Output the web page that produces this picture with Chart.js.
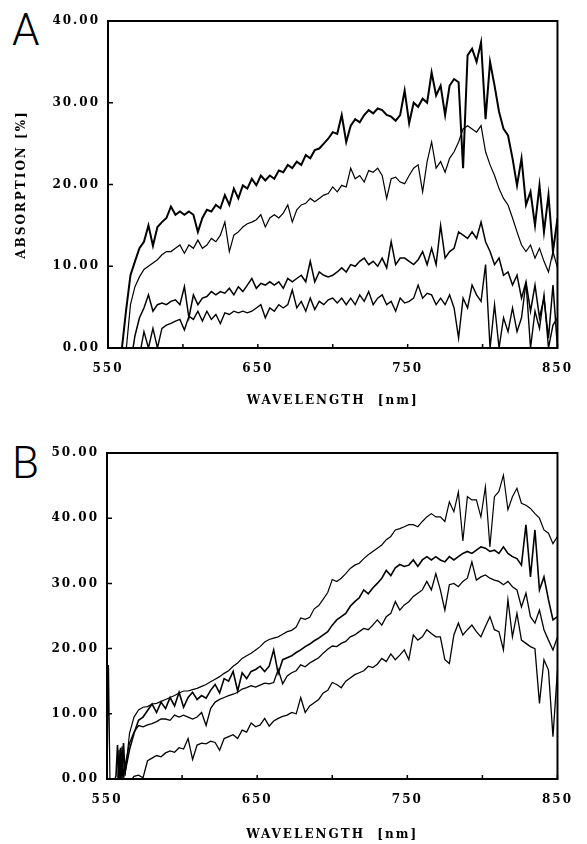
<!DOCTYPE html>
<html>
<head>
<meta charset="utf-8">
<script src="https://cdn.jsdelivr.net/npm/chart.js@4.4.1/dist/chart.umd.min.js"></script>
<style>
    body { margin: 0; background: #fff; width: 587px; height: 844px; position: relative; overflow: hidden; }
    canvas { position: absolute; left: 0; }
    #chartA { top: 0; }
    #chartB { top: 430px; }
    .panel-letter { position: absolute; left: 12px; font-family: Roboto, 'Liberation Sans', sans-serif; font-weight: 300; font-size: 44px; line-height: 44px; color: #000; }
</style>
</head>
<body>
<div class="panel-letter" style="top: 8px;">A</div>
<div class="panel-letter" style="top: 441px;">B</div>
<canvas id="chartA" width="587" height="420"></canvas>
<canvas id="chartB" width="587" height="414"></canvas>
<script>
// wavelength grid (nm), panel A
const wavelengthsA = [
    550, 553, 556, 559, 562, 565, 568, 571, 574, 577,
    580, 583, 586, 589, 592, 595, 598, 601, 604, 607,
    610, 613, 616, 619, 622, 625, 628, 631, 634, 637,
    640, 643, 646, 649, 652, 655, 658, 661, 664, 667,
    670, 673, 676, 679, 682, 685, 688, 691, 694, 697,
    700, 703, 706, 709, 712, 715, 718, 721, 724, 727,
    730, 733, 736, 739, 742, 745, 748, 751, 754, 757,
    760, 763, 766, 769, 772, 775, 778, 781, 784, 787,
    790, 793, 796, 799, 802, 805, 808, 811, 814, 817,
    820, 823, 826, 829, 832, 835, 838, 841, 844, 847,
    850
];

const absorptionA1 = [
    null, null, -5, -0.5, 4.5, 8.9, 10.6, 12.2, 13, 15,
    12.5, 14.8, 15.4, 15.9, 17.3, 16.3, 16.7, 16.3, 16.7, 16.3,
    14.2, 15.9, 16.9, 16.7, 17.5, 17.1, 18.7, 17.5, 19.5, 18.3,
    19.9, 19.5, 20.7, 19.9, 21.1, 20.5, 21.1, 20.7, 21.7, 21.5,
    22.4, 22, 22.8, 22.4, 23.6, 23.2, 24.2, 24.4, 25, 25.6,
    26.4, 26.2, 28.5, 25.2, 27.2, 28, 27.6, 28.5, 29.1, 28.7,
    29.3, 29.1, 28.5, 28.3, 27.8, 28.5, 31.5, 27.5, 30, 29.5,
    30.5, 30, 33.7, 30.9, 32.1, 28.5, 32.1, 32.9, 32.5, 22,
    35.8, 36.6, 35, 37.4, 28, 35, 32.1, 28.9, 26.8, 26,
    23.2, 19.9, 23.2, 17.5, 19.1, 15, 19.9, 14.2, 18.7, 11.8,
    15.9
];

const absorptionA2 = [
    null, null, null, -4, -0.5, 5.3, 7.5, 8.7, 9.6, 10,
    10.4, 10.8, 11.4, 11.8, 11.8, 12.2, 12.6, 11.6, 12.6, 12.2,
    13.2, 12.2, 12.6, 13.4, 13, 13.8, 15.4, 11.8, 13.8, 14.2,
    14.8, 15.2, 15.4, 15.7, 16.3, 14.8, 15.9, 16.3, 15.9, 16.5,
    17.5, 15.4, 16.9, 17.5, 17.7, 18.3, 17.9, 18.3, 18.7, 18.9,
    19.7, 19.1, 19.9, 19.7, 22, 20.7, 21.1, 20.3, 21.7, 21.5,
    22, 21.1, 18.3, 20.7, 20.9, 20.3, 20.1, 21.1, 22, 22.4,
    19.1, 22.8, 25.2, 22, 22.8, 21.5, 23.2, 24, 25.2, 26.8,
    27.2, 26.8, 26.4, 27.2, 24, 22.4, 21.1, 19.5, 18.3, 17.5,
    15.9, 14.2, 12.6, 11.8, 12.6, 11, 12.2, 10.6, 9.3, 11.8,
    9.8
];

const absorptionA3 = [
    null, null, null, null, null, -2, 1.5, 3.7, 4.9, 6.5,
    4.5, 5.3, 5.5, 5.3, 5.7, 5.9, 5.3, 7.5, 3.7, 6.5,
    5.3, 6.1, 6.3, 6.9, 6.5, 6.9, 6.7, 7.3, 6.5, 7.5,
    6.9, 7.7, 8.5, 7.3, 7.9, 7.7, 8.1, 7.7, 8.1, 7.3,
    8.5, 8.1, 8.5, 8.9, 8.1, 10.6, 8.1, 9.3, 8.9, 8.7,
    8.9, 9.3, 9.8, 9.3, 10.2, 10, 10.6, 11, 10.2, 10.6,
    10, 11, 9.8, 13, 10.2, 11, 11, 10.6, 10.2, 10.8,
    11.8, 10.2, 12.2, 10.2, 15, 11, 11.8, 12.2, 14.2, 13.8,
    13.4, 14.2, 13.4, 15.4, 13, 11.8, 10.2, 11, 8.9, 9.3,
    7.7, 8.9, 6.1, 8.1, 4.5, 7.7, 3.7, 6.1, 1.2, 7.7,
    0
];

const absorptionA4 = [
    null, null, null, null, null, null, null, -1, 2, 0,
    2.4, 0, 2.4, 2.8, 3, 3.3, 3.5, 2.2, 3.9, 3.5,
    4.5, 3.3, 4.5, 3.5, 4.1, 3, 4.3, 4.1, 4.5, 4.3,
    4.5, 4.3, 4.5, 4.9, 5.3, 3.7, 4.9, 4.5, 5.3, 4.9,
    5.3, 7.1, 4.9, 5.7, 4.5, 6.1, 4.7, 5.7, 5.3, 5.9,
    6.1, 5.5, 6.1, 5.3, 6.1, 5.3, 6.5, 5.7, 6.9, 5.3,
    6.1, 6.5, 5.3, 5.7, 4.5, 6.1, 5.5, 5.7, 6.1, 7.7,
    6.1, 6.7, 6.5, 5.3, 6.1, 5.3, 6.5, 4.9, 1.2, 6.1,
    4.9, 7.7, 6.5, 5.7, 10.2, 0, 5.3, 0, 3.7, 2,
    4.9, 2, 3.7, 8.1, 0, 4.5, 2.4, 6.5, 0, 2.8,
    3.7
];

// wavelength grid (nm), panel B: a few extra samples for the spikes near 550
const wavelengthsB = [
    550, 551, 552, 554, 556, 557, 558, 559, 560, 561,
    562, 565, 568, 571, 574, 577, 580, 583, 586, 589,
    592, 595, 598, 601, 604, 607, 610, 613, 616, 619,
    622, 625, 628, 631, 634, 637, 640, 643, 646, 649,
    652, 655, 658, 661, 664, 667, 670, 673, 676, 679,
    682, 685, 688, 691, 694, 697, 700, 703, 706, 709,
    712, 715, 718, 721, 724, 727, 730, 733, 736, 739,
    742, 745, 748, 751, 754, 757, 760, 763, 766, 769,
    772, 775, 778, 781, 784, 787, 790, 793, 796, 799,
    802, 805, 808, 811, 814, 817, 820, 823, 826, 829,
    832, 835, 838, 841, 844, 847, 850
];

const absorptionB1 = [
    -1, 17.5, -1, null, null, null, null, null, null, null,
    0.5, 7, 9.5, 10.6, 11, 11.1, 11.5, 11.6, 11.9, 12.2,
    12.5, 12.8, 13.2, 13.5, 13.5, 13.7, 13.9, 14.2, 14.5, 14.9,
    15.3, 15.7, 16.2, 16.6, 17.3, 17.8, 18.5, 18.9, 19.3, 19.8,
    20.3, 21, 21.4, 21.6, 21.8, 22.2, 22.6, 22.8, 23.3, 24.7,
    24.5, 24.8, 26.1, 26.6, 27.6, 28.6, 30.6, 30.3, 30.8, 31.5,
    32.3, 32.8, 33.1, 33.8, 34.4, 34.9, 35.4, 35.9, 36.7, 37.2,
    38.2, 38.4, 38.7, 39, 39, 38.7, 39.5, 40.2, 40.7, 40.2,
    40.2, 39.5, 42.5, 41, 44, 36.5, 43.3, 42.8, 42.8, 40.2,
    44.8, 35.6, 43.3, 44.1, 46.6, 41.3, 43.3, 44.6, 42.3, 42,
    41.5, 40.7, 40, 38.2, 37.7, 36.1, 37.2
];

const absorptionB2 = [
    null, null, null, -1, 0.5, 5.2, -1, 4.8, 0, 5.5,
    1, 4.5, 7, 9, 9.5, 10.5, 11.5, 10.2, 11.8, 10.8,
    12.5, 11.2, 13.3, 11, 12.5, 13.3, 12.2, 12.8, 12.4, 13.6,
    14.5, 13.2, 15.4, 15, 16.5, 13.5, 16.3, 15.4, 16.5, 16.8,
    17.3, 16.5, 17.3, 19.8, 16.2, 18.3, 18.6, 18.9, 19.4, 19.8,
    20.3, 20.7, 21.2, 21.6, 22.1, 22.6, 23.6, 24.4, 24.9, 25.4,
    26.5, 27.2, 27.8, 29, 28.4, 29.3, 30, 30.8, 32, 31.2,
    32.4, 32.9, 32.6, 32.8, 33.6, 32.6, 33.6, 34.1, 33.6, 34.1,
    33.6, 33.3, 34.1, 33.6, 34.1, 34.6, 34.9, 34.6, 35.1, 35.6,
    35.4, 34.9, 35.1, 34.6, 35.6, 34.6, 34.1, 33.8, 32.8, 39,
    31, 38.2, 29, 31, 27.5, 24.4, 24.9
];

const absorptionB3 = [
    null, null, null, null, -1, -1, 4.5, -1, 5, 0.5,
    2, 5.5, 7.2, 8.2, 8, 8.3, 8.5, 8.8, 9.2, 9.2,
    9, 9.8, 9.5, 9.8, 9.5, 9.2, 9.5, 10.2, 8.2, 10.8,
    11.8, 12.2, 12.5, 12.8, 13, 13.3, 13.8, 14, 14.3, 14.1,
    14.4, 14.7, 14.6, 14.8, 16.8, 14.6, 15.8, 16.3, 16.6, 17.5,
    17.2, 17.8, 18.2, 18.6, 19.3, 19.9, 20.4, 20.3, 20.8, 21.1,
    21.8, 22.1, 22.6, 23.1, 22.9, 23.6, 24.4, 23.6, 24.9, 25.4,
    27.2, 25.9, 26.7, 27.2, 28, 28.5, 29, 30.3, 29, 31.5,
    29, 25.9, 29.8, 30, 29.5, 30.3, 30.8, 33.3, 30.5, 31,
    31.3, 30.8, 30.5, 30.3, 29.8, 30.3, 29.5, 29, 26.4, 28.5,
    24.9, 23.9, 25.9, 22.9, 21.3, 19.8, 21.8
];

const absorptionB4 = [
    null, null, null, null, null, null, null, null, null, null,
    null, -0.5, 0.4, 0.6, 0.2, 2.8, 3.2, 3.6, 3.4, 4,
    4.3, 4.1, 4.8, 4.6, 6.2, 3, 5.2, 5.5, 5.4, 5.8,
    5.6, 4.4, 6.2, 6.5, 6.8, 6.2, 7.5, 7.2, 8.6, 8,
    8.3, 9.3, 8.1, 8.9, 9.3, 9.6, 9.8, 10.2, 10, 12.5,
    10.2, 11.2, 11.7, 12.2, 13.2, 13.6, 14.8, 14.5, 14, 15,
    15.5, 16, 16.3, 16.6, 17.3, 17.1, 17.6, 18.5, 18, 19.2,
    18.3, 19, 19.8, 18.3, 22.1, 21.3, 21.8, 22.9, 22.3, 21.8,
    21.8, 18.3, 17.7, 22.1, 23.9, 22.1, 22.9, 23.6, 22.6, 21.8,
    23.4, 24.9, 22.9, 22.6, 19.8, 27.5, 21.8, 25.4, 21.3, 20.8,
    20.3, 20, 11.6, 18.3, 16.7, 6.5, 16.7
];

const xTickLabels = [550, 650, 750, 850];
const yMaxA = 40, yMaxB = 50;

const serifFont = { family: "'DejaVu Serif', 'Liberation Serif', serif", weight: 'bold', size: 12 };

// letter spacing like the typeset labels
const spacingPlugin = {
    id: 'spacing',
    beforeUpdate(chart) { chart.ctx.letterSpacing = '2px'; },
    beforeDraw(chart) { chart.ctx.letterSpacing = '2px'; }
};

// box round the plot and small inward tick marks
const framePlugin = {
    id: 'frame',
    afterDatasetsDraw(chart) {
        const { ctx, chartArea: a, scales: { x, y } } = chart;
        ctx.save();
        ctx.strokeStyle = '#000';
        ctx.lineWidth = 2;
        ctx.strokeRect(a.left, a.top, a.right - a.left, a.bottom - a.top);
        ctx.lineWidth = 1.5;
        ctx.beginPath();
        x.ticks.forEach(t => {
            const px = x.getPixelForValue(t.value);
            ctx.moveTo(px, a.bottom);
            ctx.lineTo(px, a.bottom - 4);
        });
        y.ticks.forEach(t => {
            const py = y.getPixelForValue(t.value);
            ctx.moveTo(a.left, py);
            ctx.lineTo(a.left + 5, py);
        });
        ctx.stroke();
        ctx.restore();
    }
};

function makeDataset(wavelengths, values, width) {
    return {
        data: wavelengths.map((w, i) => ({ x: w, y: values[i] })),
        borderColor: '#000',
        borderWidth: width,
        pointRadius: 0,
        tension: 0,
        spanGaps: false
    };
}

function makeOptions(yMax, cfg) {
    return {
        responsive: false,
        animation: false,
        devicePixelRatio: 1,
        layout: { padding: { top: cfg.top, right: cfg.right, left: 0, bottom: 0 } },
        plugins: { legend: { display: false }, tooltip: { enabled: false } },
        scales: {
            x: {
                type: 'linear',
                min: 550,
                max: 850,
                grid: { display: false, drawTicks: false },
                border: { display: false },
                ticks: {
                    stepSize: 50,
                    autoSkip: false,
                    maxRotation: 0,
                    padding: 14,
                    color: '#000',
                    font: serifFont,
                    callback: value => xTickLabels.includes(value) ? String(value) : ''
                },
                title: {
                    display: true,
                    text: 'WAVELENGTH  [nm]',
                    color: '#000',
                    font: serifFont,
                    padding: { top: 0, bottom: cfg.xTitlePad }
                },
                afterFit: scale => { scale.height = cfg.xHeight; }
            },
            y: {
                min: 0,
                max: yMax,
                grid: { display: false, drawTicks: false },
                border: { display: false },
                ticks: {
                    stepSize: 10,
                    padding: 8,
                    color: '#000',
                    font: serifFont,
                    callback: value => value.toFixed(2)
                },
                title: {
                    display: cfg.yTitle,
                    text: 'ABSORPTION [%]',
                    color: '#000',
                    font: serifFont,
                    padding: { top: 15, bottom: 0 }
                },
                afterFit: scale => { scale.width = cfg.yWidth; }
            }
        }
    };
}

new Chart(document.getElementById('chartA'), {
    type: 'line',
    data: {
        datasets: [
            makeDataset(wavelengthsA, absorptionA1, 2),
            makeDataset(wavelengthsA, absorptionA2, 1.2),
            makeDataset(wavelengthsA, absorptionA3, 1.5),
            makeDataset(wavelengthsA, absorptionA4, 1.4)
        ]
    },
    options: makeOptions(yMaxA, { top: 21, right: 16, xHeight: 72, xTitlePad: 12, yWidth: 108, yTitle: true }),
    plugins: [spacingPlugin, framePlugin]
});

new Chart(document.getElementById('chartB'), {
    type: 'line',
    data: {
        datasets: [
            makeDataset(wavelengthsB, absorptionB1, 1.2),
            makeDataset(wavelengthsB, absorptionB2, 1.6),
            makeDataset(wavelengthsB, absorptionB3, 1.3),
            makeDataset(wavelengthsB, absorptionB4, 1.3)
        ]
    },
    options: makeOptions(yMaxB, { top: 23, right: 18, xHeight: 65, xTitlePad: 2, yWidth: 107, yTitle: false }),
    plugins: [spacingPlugin, framePlugin]
});
</script>
</body>
</html>
